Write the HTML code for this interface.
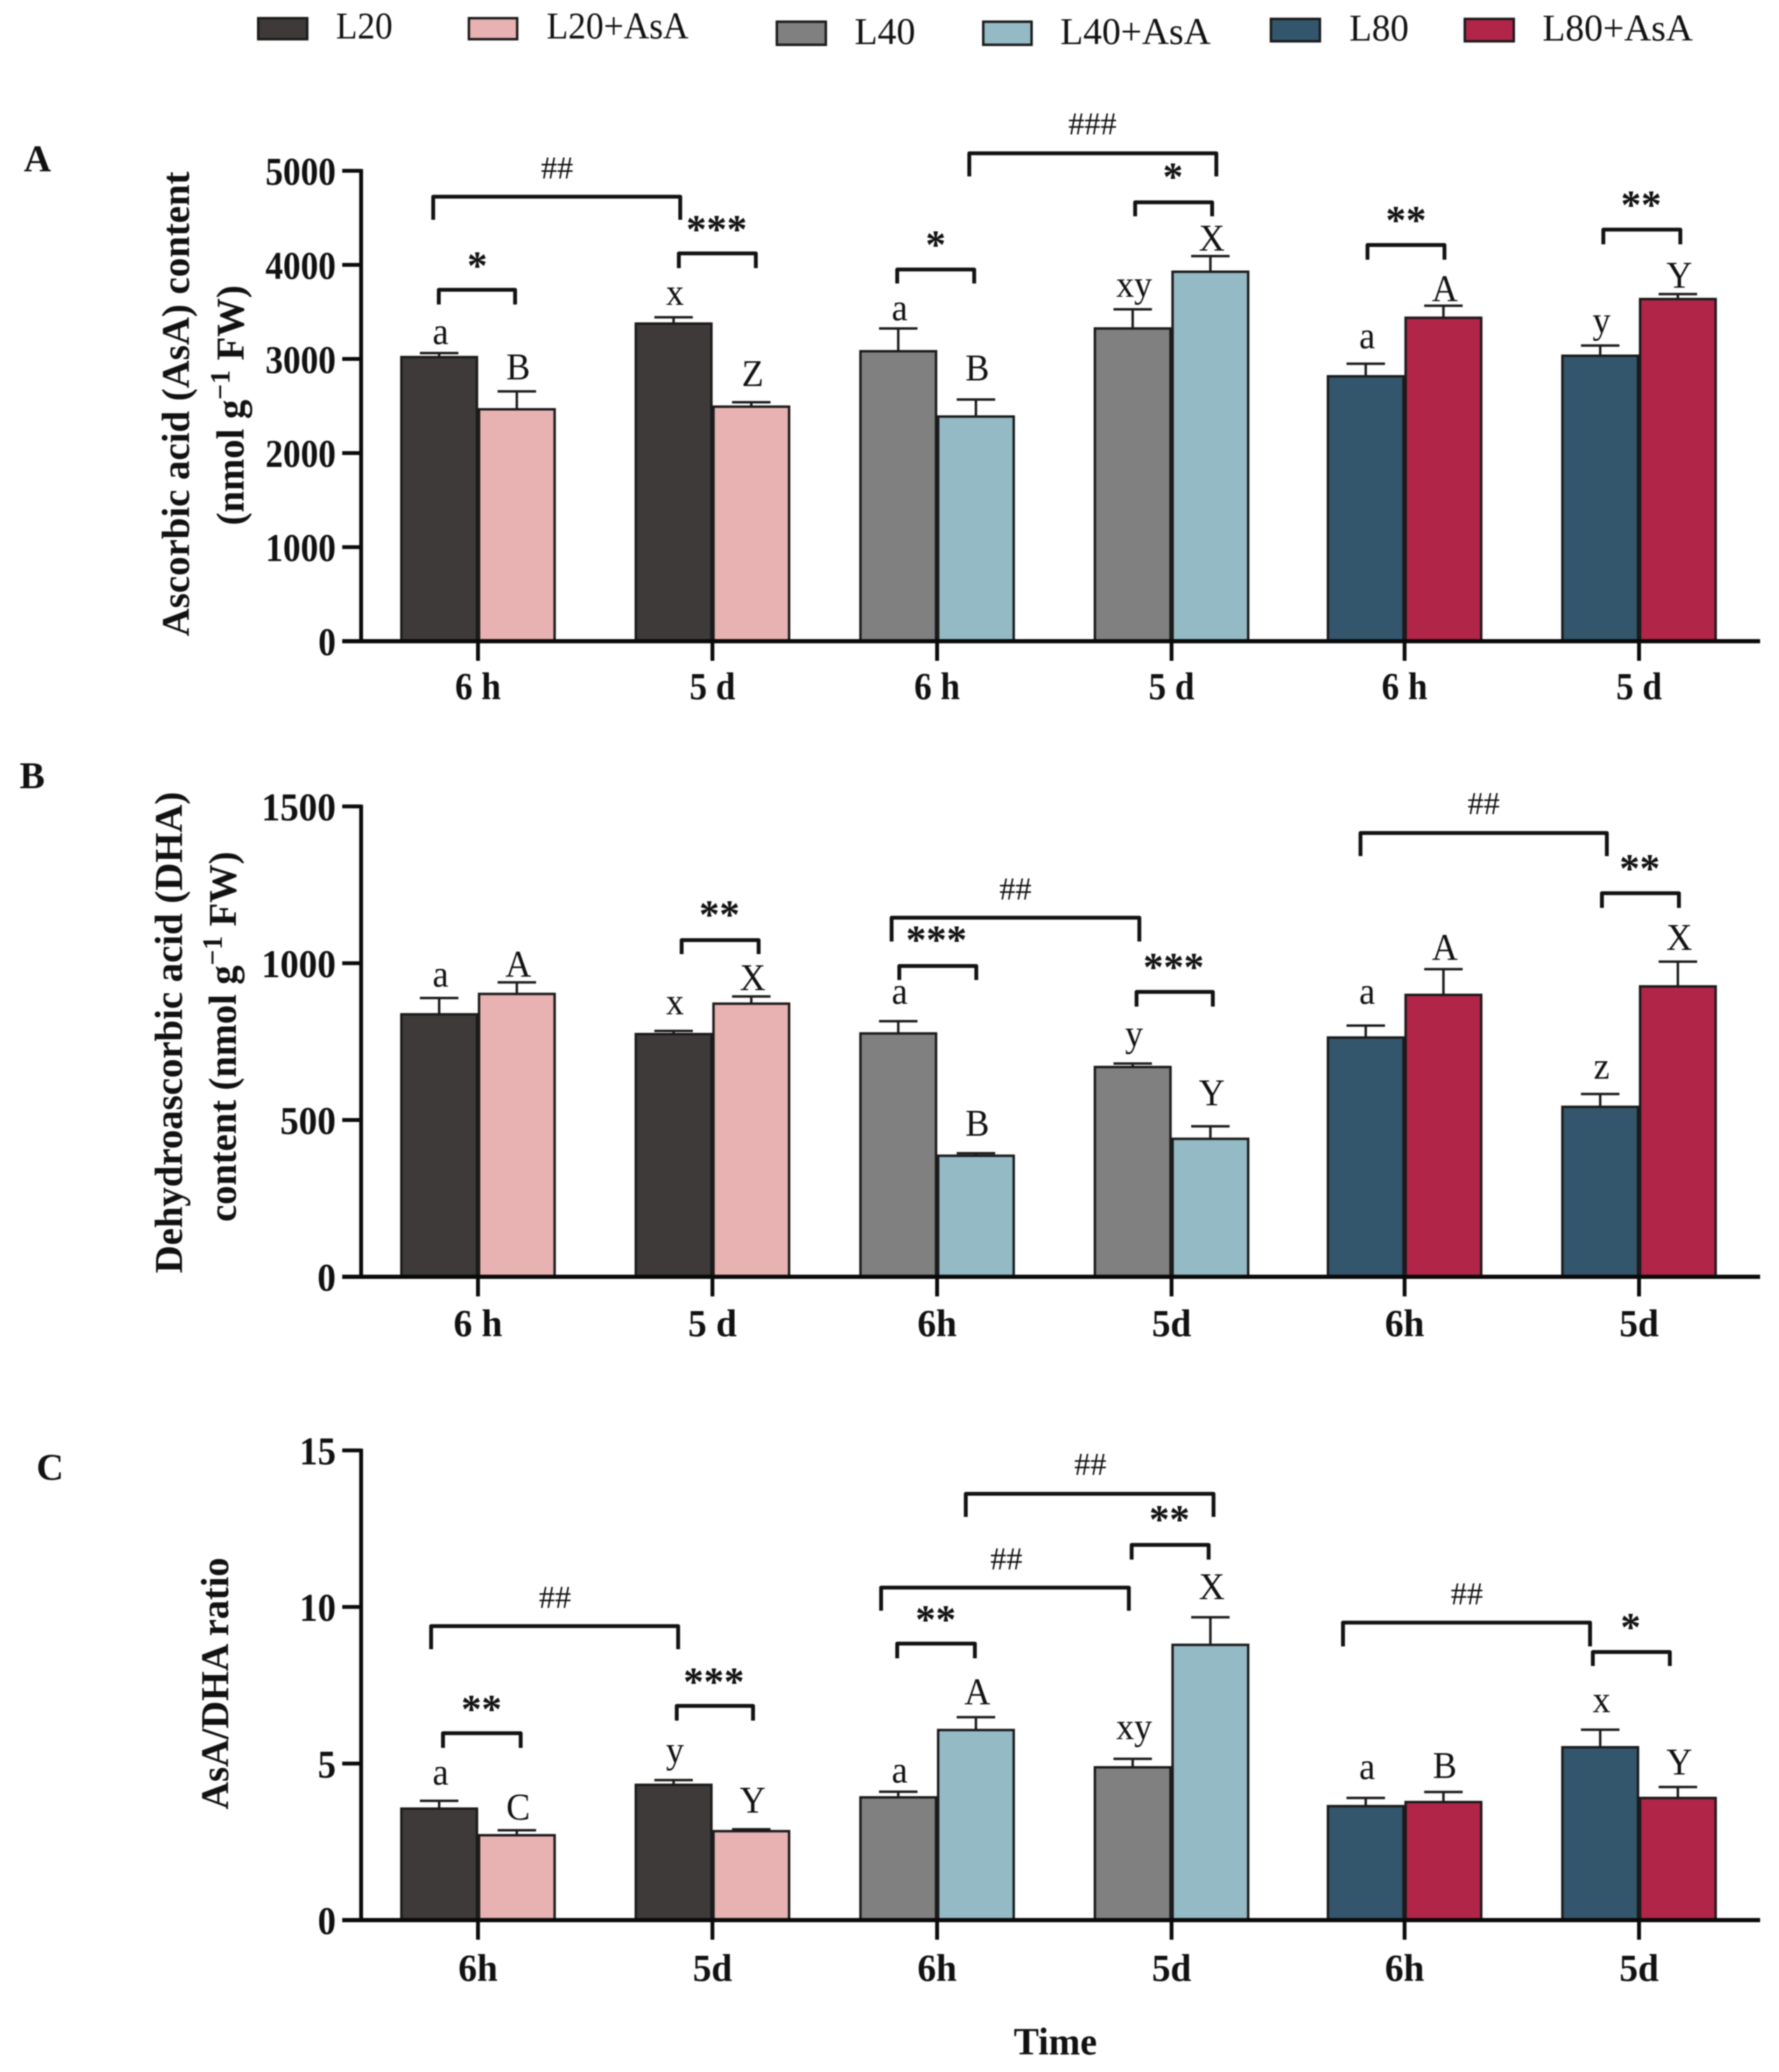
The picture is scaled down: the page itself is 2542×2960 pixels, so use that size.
<!DOCTYPE html>
<html lang="en">
<head>
<meta charset="utf-8">
<title>Ascorbic acid, dehydroascorbic acid and AsA/DHA ratio</title>
<style>
html,body{margin:0;padding:0;background:#fff;}
svg{display:block;filter:blur(0.7px);}
text{font-family:"Liberation Serif",serif;fill:#111;}
.b{font-weight:bold;}
.brk{fill:none;stroke:#111;stroke-width:5.5;stroke-linejoin:round;}
.star{font-size:58px;font-weight:bold;text-anchor:middle;}
.hash{font-size:46px;text-anchor:middle;}
.leg{font-size:54px;}
.sw{stroke:#1a1a1a;stroke-width:3.5;}
.yt{font-size:56px;font-weight:bold;text-anchor:middle;}
.pl{font-size:54px;font-weight:bold;}
</style>
</head>
<body>
<svg id="chart" xmlns="http://www.w3.org/2000/svg" width="2542" height="2960" viewBox="0 0 2542 2960">
<rect x="0" y="0" width="2542" height="2960" fill="#fff"/>

<g>
<g><rect class="sw" x="369" y="26" width="70" height="30" fill="#3e3a39"/><text class="leg" x="480" y="55" textLength="81" lengthAdjust="spacingAndGlyphs">L20</text></g>
<g><rect class="sw" x="670" y="26" width="69" height="30" fill="#e8b2b2"/><text class="leg" x="781" y="55" textLength="203" lengthAdjust="spacingAndGlyphs">L20+AsA</text></g>
<g><rect class="sw" x="1110" y="31" width="70" height="33" fill="#808080"/><text class="leg" x="1221" y="63" textLength="87" lengthAdjust="spacingAndGlyphs">L40</text></g>
<g><rect class="sw" x="1405" y="31" width="69" height="33" fill="#94bac5"/><text class="leg" x="1515" y="63" textLength="215" lengthAdjust="spacingAndGlyphs">L40+AsA</text></g>
<g><rect class="sw" x="1816" y="27" width="70" height="32" fill="#33566d"/><text class="leg" x="1928" y="58" textLength="85" lengthAdjust="spacingAndGlyphs">L80</text></g>
<g><rect class="sw" x="2093" y="27" width="70" height="32" fill="#b02548"/><text class="leg" x="2204" y="58" textLength="215" lengthAdjust="spacingAndGlyphs">L80+AsA</text></g>
</g>

<text class="pl" x="34" y="245">A</text>
<text class="pl" x="28" y="1126">B</text>
<text class="pl" x="52" y="2114">C</text>

<text class="yt" transform="translate(270,577) rotate(-90)" textLength="664" lengthAdjust="spacingAndGlyphs">Ascorbic acid (AsA) content</text>
<text class="yt" transform="translate(348,579) rotate(-90)" textLength="343" lengthAdjust="spacingAndGlyphs">(nmol g<tspan font-size="40" dy="-20">−1</tspan><tspan dy="20"> FW)</tspan></text>
<text class="yt" transform="translate(260,1475) rotate(-90)" textLength="688" lengthAdjust="spacingAndGlyphs">Dehydroascorbic acid (DHA)</text>
<text class="yt" transform="translate(337,1481) rotate(-90)" textLength="529" lengthAdjust="spacingAndGlyphs">content (nmol g<tspan font-size="40" dy="-20">−1</tspan><tspan dy="20"> FW)</tspan></text>
<text class="yt" transform="translate(326,2405) rotate(-90)" textLength="360" lengthAdjust="spacingAndGlyphs">AsA/DHA ratio</text>
<text class="b" font-size="55" text-anchor="middle" x="1508" y="2935" textLength="119" lengthAdjust="spacingAndGlyphs">Time</text>

<g id="panel-a"></g>
<g id="panel-b"></g>
<g id="panel-c"></g>

<g>
<path class="brk" d="M619 314V281H972V314"/>
<text class="hash" x="796" y="255">##</text>
<path class="brk" d="M627 435V414H736V435"/>
<text class="star" x="682" y="399">*</text>
<path class="brk" d="M970 383V362H1080V383"/>
<text class="star" x="1024" y="347">***</text>
<path class="brk" d="M1282 405V385H1392V405"/>
<text class="star" x="1337" y="369">*</text>
<path class="brk" d="M1385 252V219H1738V252"/>
<text class="hash" x="1561" y="192">###</text>
<path class="brk" d="M1622 309V289H1732V309"/>
<text class="star" x="1676" y="272">*</text>
<path class="brk" d="M1954 371V350H2064V371"/>
<text class="star" x="2009" y="334">**</text>
<path class="brk" d="M2291 349V328H2401V349"/>
<text class="star" x="2345" y="312">**</text>
</g>

<g>
<path class="brk" d="M974 1363V1343H1084V1363"/>
<text class="star" x="1028" y="1326">**</text>
<path class="brk" d="M1274 1345V1311H1628V1345"/>
<text class="hash" x="1451" y="1285">##</text>
<path class="brk" d="M1285 1400V1380H1395V1400"/>
<text class="star" x="1338" y="1362">***</text>
<path class="brk" d="M1624 1438V1417H1733V1438"/>
<text class="star" x="1677" y="1401">***</text>
<path class="brk" d="M1944 1223V1190H2296V1223"/>
<text class="hash" x="2120" y="1163">##</text>
<path class="brk" d="M2289 1297V1276H2399V1297"/>
<text class="star" x="2343" y="1260">**</text>
</g>

<g>
<path class="brk" d="M616 2356V2323H969V2356"/>
<text class="hash" x="793" y="2297">##</text>
<path class="brk" d="M633 2497V2476H744V2497"/>
<text class="star" x="688" y="2461">**</text>
<path class="brk" d="M967 2458V2437H1076V2458"/>
<text class="star" x="1020" y="2422">***</text>
<path class="brk" d="M1259 2301V2268H1613V2301"/>
<text class="hash" x="1438" y="2242">##</text>
<path class="brk" d="M1282 2369V2348H1393V2369"/>
<text class="star" x="1337" y="2333">**</text>
<path class="brk" d="M1380 2167V2134H1734V2167"/>
<text class="hash" x="1558" y="2107">##</text>
<path class="brk" d="M1617 2228V2207H1727V2228"/>
<text class="star" x="1671" y="2190">**</text>
<path class="brk" d="M1919 2352V2318H2272V2352"/>
<text class="hash" x="2096" y="2292">##</text>
<path class="brk" d="M2276 2380V2360H2386V2380"/>
<text class="star" x="2330" y="2344">*</text>
</g>
</svg>

<script>
// Data: each array has one entry per bar, left to right.
const seriesNames = ["l20","l20-asa","l40","l40-asa","l80","l80-asa"];
const timePoints = ["6h","5d"];

const asaValues = [3020,2465,3376,2493,3082,2388,3324,3927,2816,3438,3034,3637];
const asaErrors = [43,190,67,47,242,181,204,166,133,128,109,53];
const asaLetters = ["a","B","x","Z","a","B","xy","X","a","A","y","Y"];
const asaTicks = [0,1000,2000,3000,4000,5000];
const asaTimeLabels = ["6 h","5 d","6 h","5 d","6 h","5 d"];

const dhaValues = [837,902,774,871,776,386,669,440,763,899,542,926];
const dhaErrors = [52,37,10,23,39,8,11,40,38,82,41,79];
const dhaLetters = ["a","A","x","X","a","B","y","Y","a","A","z","X"];
const dhaTicks = [0,500,1000,1500];
const dhaTimeLabels = ["6 h","5 d","6h","5d","6h","5d"];

const ratioValues = [3.56,2.71,4.32,2.84,3.92,6.07,4.88,8.79,3.64,3.77,5.52,3.90];
const ratioErrors = [0.25,0.16,0.15,0.06,0.18,0.41,0.27,0.88,0.26,0.32,0.56,0.35];
const ratioLetters = ["a","C","y","Y","a","A","xy","X","a","B","x","Y"];
const ratioTicks = [0,5,10,15];
const ratioTimeLabels = ["6h","5d","6h","5d","6h","5d"];

// Layout (not data)
const seriesColors = ["#3e3a39","#e8b2b2","#808080","#94bac5","#33566d","#b02548"];
const asaLetterLift = [13,17,18,23,12,27,18,8,22,6,18,9];
const dhaLetterLift = [16,8,24,9,25,25,25,30,31,13,22,17];
const ratioLetterLift = [23,15,25,24,13,18,28,26,27,20,25,18];
const sectionStart = [683,1339,2007];
const pairSpacing = 335;
const barWidth = 111;
const capWidth = 55;
const axisX = 516;
const axisEnd = 2515;
const SVGNS = "http://www.w3.org/2000/svg";

function groupX(i){
  return sectionStart[Math.floor(i/2)] + (i%2)*pairSpacing;
}
function make(parent,tag,attrs){
  const el = document.createElementNS(SVGNS,tag);
  for(const k in attrs){ el.setAttribute(k,attrs[k]); }
  parent.appendChild(el);
  return el;
}
function place(x,y,sx){
  return "translate("+x+","+y+") scale("+sx+",1)";
}
function drawPanel(cfg){
  const root = document.getElementById(cfg.id);
  const yScale = function(v){ return cfg.yZero - (v/cfg.max)*(cfg.yZero-cfg.yTop); };

  cfg.values.forEach(function(v,i){
    const side = i%2;
    const pairIndex = Math.floor(i/2);
    const seriesIndex = Math.floor(pairIndex/2)*2 + side;
    const cx = groupX(pairIndex);
    const left = side===0 ? cx-barWidth : cx;
    const mid = left + barWidth/2;
    const top = yScale(v);
    const errTop = yScale(v+cfg.errors[i]);
    const tag = cfg.key+"-"+seriesNames[seriesIndex]+"-"+timePoints[pairIndex%2];

    const err = make(root,"path",{d:"M"+mid+" "+top+"V"+errTop+"M"+(mid-capWidth/2)+" "+errTop+"H"+(mid+capWidth/2),fill:"none",stroke:"#1a1a1a","stroke-width":3.5});
    
    

    const bar = make(root,"rect",{x:left+1.5,y:top,width:barWidth-3,height:cfg.yZero-top,fill:seriesColors[seriesIndex],stroke:"#1a1a1a","stroke-width":3.5});
    
    

    const letter = make(root,"text",{transform:place(mid+2,errTop-cfg.lift[i],0.95),"font-size":54,"text-anchor":"middle"});
    letter.textContent = cfg.letters[i];
    
    
  });

  const yAxis = make(root,"line",{x1:axisX,x2:axisX,y1:cfg.yTop-2.5,y2:cfg.yZero,stroke:"#0a0a0a","stroke-width":5.5});
  
  

  const xAxis = make(root,"line",{x1:489,x2:axisEnd,y1:cfg.yZero,y2:cfg.yZero,stroke:"#0a0a0a","stroke-width":6});
  
  

  cfg.ticks.forEach(function(t){
    const y = yScale(t);
    const tick = make(root,"line",{x1:489,x2:axisX,y1:y,y2:y,stroke:"#0a0a0a","stroke-width":5.5});
    
    
    const label = make(root,"text",{transform:place(480,y+20,cfg.tickScale),"font-size":56,"font-weight":"bold","text-anchor":"end"});
    label.textContent = String(t);
    
    
  });

  cfg.timeLabels.forEach(function(name,i){
    const x = groupX(i);
    const tick = make(root,"line",{x1:x,x2:x,y1:cfg.yZero,y2:cfg.yZero+28,stroke:"#0a0a0a","stroke-width":5.5});
    
    
    const label = make(root,"text",{transform:place(x,cfg.yZero+cfg.labelDrop,cfg.labelScale),"font-size":55,"font-weight":"bold","text-anchor":"middle"});
    label.textContent = name;
    
    
  });
}

drawPanel({id:"panel-a",key:"asa",values:asaValues,errors:asaErrors,letters:asaLetters,lift:asaLetterLift,ticks:asaTicks,timeLabels:asaTimeLabels,max:5000,yTop:244,yZero:916,labelDrop:83,tickScale:0.9,labelScale:0.91});
drawPanel({id:"panel-b",key:"dha",values:dhaValues,errors:dhaErrors,letters:dhaLetters,lift:dhaLetterLift,ticks:dhaTicks,timeLabels:dhaTimeLabels,max:1500,yTop:1152,yZero:1824,labelDrop:85,tickScale:0.95,labelScale:0.97});
drawPanel({id:"panel-c",key:"ratio",values:ratioValues,errors:ratioErrors,letters:ratioLetters,lift:ratioLetterLift,ticks:ratioTicks,timeLabels:ratioTimeLabels,max:15,yTop:2072,yZero:2743,labelDrop:87,tickScale:0.93,labelScale:0.97});
</script>
</body>
</html>
